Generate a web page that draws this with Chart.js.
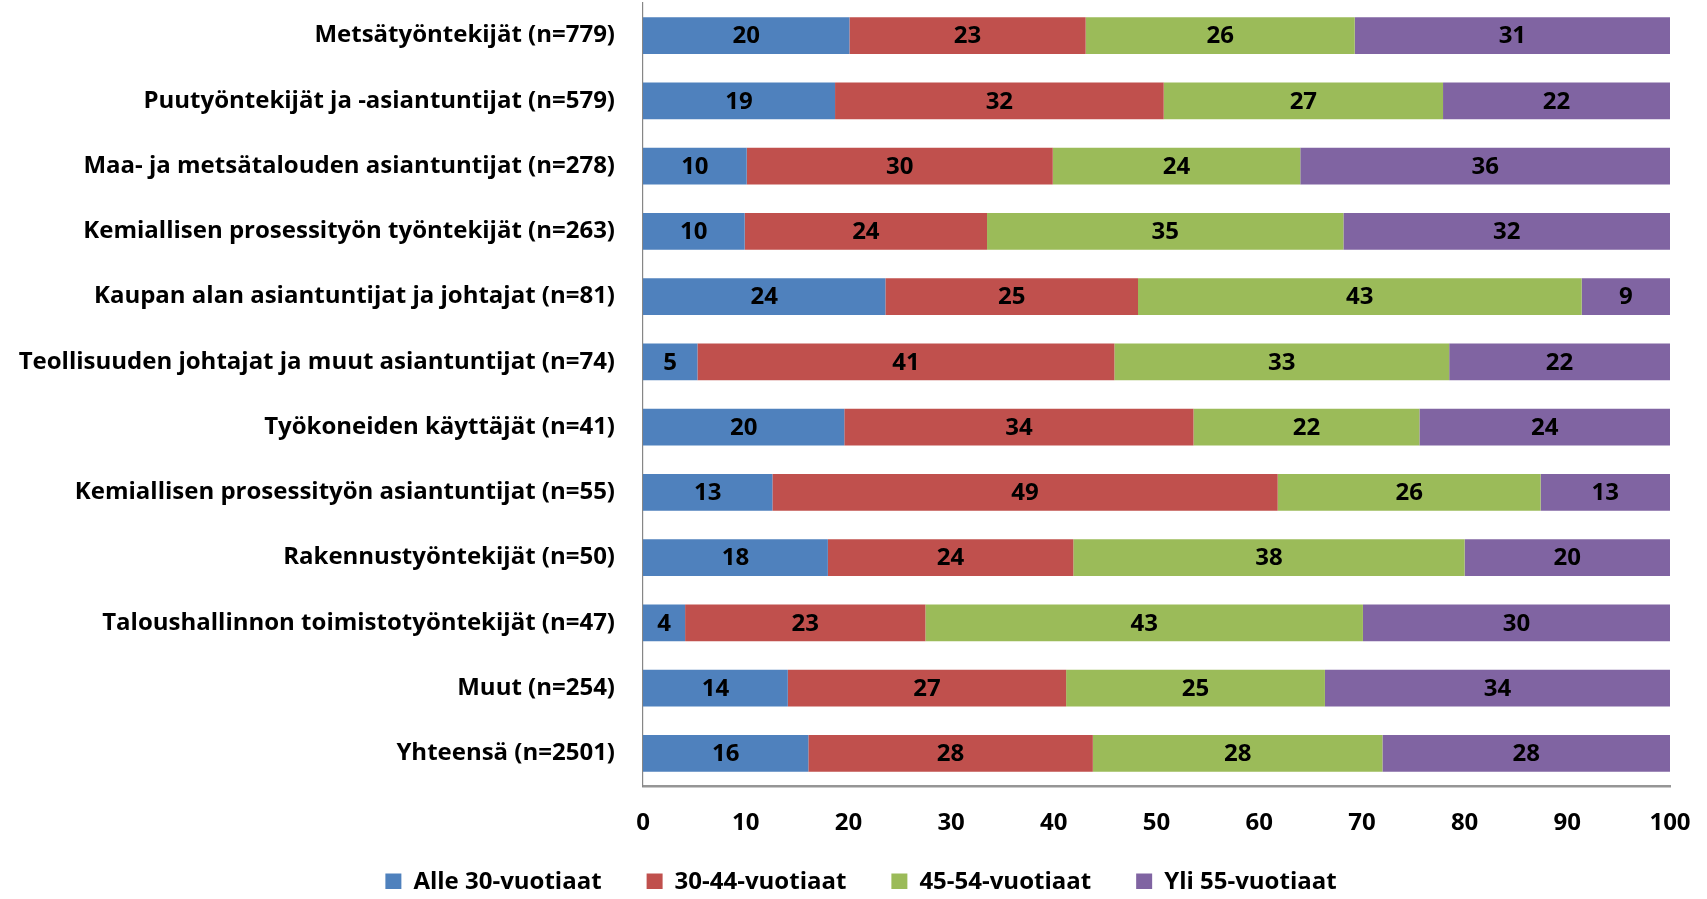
<!DOCTYPE html>
<html>
<head>
<meta charset="utf-8">
<script src="https://cdn.jsdelivr.net/npm/chart.js@4.4.1/dist/chart.umd.min.js"></script>
<style>
  html, body { margin:0; padding:0; background:#fff; }
  #wrap { width:1707px; height:899px; }
</style>
</head>
<body>
<div id="wrap"><canvas id="ageChart"></canvas></div>
<script>
// age group shares (%) per occupation
const categories = [
  'Metsätyöntekijät (n=779)',
  'Puutyöntekijät ja -asiantuntijat (n=579)',
  'Maa- ja metsätalouden asiantuntijat (n=278)',
  'Kemiallisen prosessityön työntekijät (n=263)',
  'Kaupan alan asiantuntijat ja johtajat (n=81)',
  'Teollisuuden johtajat ja muut asiantuntijat (n=74)',
  'Työkoneiden käyttäjät (n=41)',
  'Kemiallisen prosessityön asiantuntijat (n=55)',
  'Rakennustyöntekijät (n=50)',
  'Taloushallinnon toimistotyöntekijät (n=47)',
  'Muut (n=254)',
  'Yhteensä (n=2501)'
];
const alle30   = [20.1, 18.7, 10.1,  9.9, 23.6,  5.3, 19.6, 12.6, 18.0,  4.1, 14.1, 16.1];
const v30_44   = [23.0, 32.0, 29.8, 23.6, 24.6, 40.6, 34.0, 49.2, 23.9, 23.4, 27.1, 27.7];
const v45_54   = [26.2, 27.2, 24.1, 34.7, 43.2, 32.6, 22.0, 25.6, 38.1, 42.6, 25.2, 28.2];
const yli55    = [30.7, 22.1, 36.0, 31.8,  8.6, 21.5, 24.4, 12.6, 20.0, 29.9, 33.6, 28.0];
const seriesNames = ['Alle 30-vuotiaat', '30-44-vuotiaat', '45-54-vuotiaat', 'Yli 55-vuotiaat'];
const seriesColors = ['#4F81BD', '#C0504D', '#9BBB59', '#8064A2'];
const xTicks = [0, 10, 20, 30, 40, 50, 60, 70, 80, 90, 100];

const FONT = '"Open Sans", "Liberation Sans", sans-serif';

const segmentLabels = {
  id: 'segmentLabels',
  afterLayout(chart) {
    // legend padding is only there for the item spacing; move the row into place
    const lg = chart.legend;
    lg.top -= 10; lg.bottom -= 10;
    lg.left += 26; lg.right += 26;
  },
  // value in the middle of every segment
  afterDatasetsDraw(chart) {
    const ctx = chart.ctx;
    ctx.save();
    ctx.font = 'bold 24px ' + FONT;
    ctx.fillStyle = '#000';
    ctx.textAlign = 'center';
    ctx.textBaseline = 'middle';
    chart.data.datasets.forEach((ds, di) => {
      chart.getDatasetMeta(di).data.forEach((bar, i) => {
        const v = ds.data[i];
        ctx.fillText(String(Math.round(v)), (bar.x + bar.base) / 2, bar.y + 1);
      });
    });
    ctx.restore();
  }
};

const datasets = [alle30, v30_44, v45_54, yli55].map((d, i) => ({
  label: seriesNames[i],
  data: d,
  backgroundColor: seriesColors[i],
  borderWidth: 0,
  categoryPercentage: 1,
  barPercentage: 0.567
}));

new Chart(document.getElementById('ageChart'), {
  type: 'bar',
  data: { labels: categories, datasets },
  plugins: [segmentLabels],
  options: {
    indexAxis: 'y',
    responsive: true,
    maintainAspectRatio: false,
    animation: false,
    layout: { padding: { top: 3, right: 37, left: 0, bottom: 0 } },
    plugins: {
      tooltip: { enabled: false },
      legend: {
        position: 'bottom',
        maxHeight: 64,
        labels: {
          font: { family: FONT, size: 24, weight: 'bold' },
          color: '#000',
          boxWidth: 16,
          boxHeight: 17,
          padding: 45
        }
      }
    },
    scales: {
      x: {
        stacked: true,
        min: 0,
        max: 100,
        afterBuildTicks: s => { s.ticks = xTicks.map(v => ({ value: v })); },
        grid: { display: false, drawTicks: true, tickLength: 25 },
        border: { display: true, color: '#969696', width: 2.5 },
        ticks: { padding: 0, color: '#000', font: { family: FONT, size: 24, weight: 'bold', lineHeight: 1 } }
      },
      y: {
        stacked: true,
        afterFit: s => { s.width = 643; },
        grid: { display: false, drawTicks: true, tickLength: 28 },
        border: { display: true, color: '#868686', width: 1.2 },
        ticks: { padding: 0, color: '#000', font: { family: FONT, size: 24, weight: 'bold', lineHeight: 0.2 } }
      }
    }
  }
});
</script>
</body>
</html>
